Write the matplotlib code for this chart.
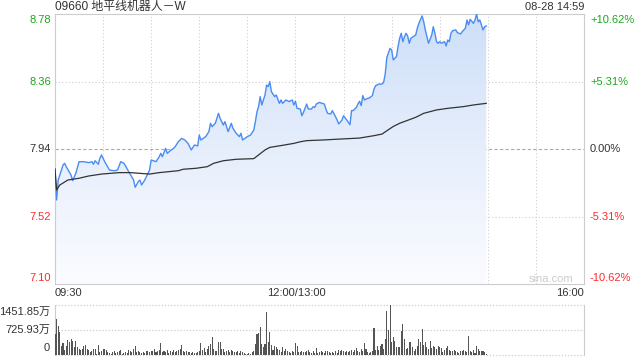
import numpy as np
import matplotlib.pyplot as plt
from matplotlib.colors import LinearSegmentedColormap

plt.rcParams['font.family'] = ['Liberation Sans', 'Noto Sans CJK SC', 'DejaVu Sans']

# minutes since 09:30 (lunch break removed, 12:00/13:00 = 150)
price_t = [0, 1, 2, 5, 6, 7, 10, 11, 13, 15, 18, 21, 23, 24, 25, 27, 28, 29, 31, 34,
           37, 39, 41, 43, 46, 49, 50, 52, 53, 54, 56, 59, 60, 63, 65, 66, 67, 69, 70, 72,
           74, 75, 77, 79, 81, 83, 85, 87, 89, 90, 91, 94, 96, 97, 98, 100, 102, 103, 105, 106,
           108, 110, 111, 113, 115, 116, 117, 120, 122, 124, 125, 126, 127, 128, 129, 130, 131, 132, 133, 134,
           135, 137, 138, 140, 141, 142, 144, 146, 148, 149, 150, 151, 153, 154, 155, 157, 158, 160, 161, 162,
           163, 165, 166, 168, 169, 170, 172, 173, 175, 176, 177, 179, 180, 182, 183, 184, 185, 186, 188, 189,
           190, 191, 192, 193, 195, 196, 198, 199, 200, 202, 204, 205, 206, 207, 209, 210, 211, 213, 214, 215,
           216, 217, 218, 219, 220, 221, 222, 225, 226, 227, 229, 230, 231, 232, 233, 235, 236, 237, 238, 239,
           240, 241, 243, 244, 245, 246, 247, 248, 250, 251, 253, 254, 255, 256, 257, 258, 259, 261, 262, 263,
           264, 265, 266, 267, 268, 269]
price = [7.814, 7.623, 7.747, 7.840, 7.851, 7.830, 7.778, 7.743, 7.789, 7.861, 7.861, 7.855, 7.861, 7.845, 7.867, 7.845, 7.882, 7.903, 7.861, 7.809,
         7.805, 7.809, 7.861, 7.851, 7.799, 7.747, 7.702, 7.737, 7.747, 7.716, 7.747, 7.809, 7.872, 7.861, 7.892, 7.913, 7.892, 7.944, 7.913, 7.930,
         7.944, 7.955, 7.986, 8.006, 7.996, 7.975, 7.934, 7.965, 7.959, 8.027, 7.996, 8.017, 8.048, 8.100, 8.079, 8.100, 8.162, 8.131, 8.089, 8.110,
         8.048, 8.100, 8.069, 8.038, 8.017, 8.038, 7.996, 8.017, 8.027, 8.058, 8.110, 8.172, 8.203, 8.266, 8.214, 8.245, 8.276, 8.338, 8.328, 8.359,
         8.297, 8.266, 8.276, 8.224, 8.245, 8.224, 8.245, 8.235, 8.245, 8.214, 8.237, 8.193, 8.189, 8.147, 8.168, 8.220, 8.189, 8.189, 8.203, 8.199,
         8.220, 8.230, 8.226, 8.220, 8.189, 8.162, 8.158, 8.179, 8.141, 8.120, 8.096, 8.120, 8.147, 8.120, 8.106, 8.091, 8.179, 8.179, 8.199, 8.220,
         8.237, 8.210, 8.272, 8.245, 8.255, 8.257, 8.272, 8.313, 8.334, 8.344, 8.344, 8.355, 8.407, 8.510, 8.566, 8.556, 8.494, 8.515, 8.577, 8.629,
         8.660, 8.608, 8.639, 8.660, 8.643, 8.598, 8.629, 8.649, 8.691, 8.722, 8.768, 8.732, 8.681, 8.639, 8.598, 8.649, 8.701, 8.660, 8.608, 8.598,
         8.608, 8.598, 8.608, 8.581, 8.618, 8.608, 8.660, 8.676, 8.681, 8.664, 8.656, 8.670, 8.681, 8.691, 8.743, 8.712, 8.747, 8.722, 8.743, 8.780,
         8.732, 8.743, 8.712, 8.681, 8.701, 8.705]

avg_t = [0, 1, 3, 8, 15, 21, 29, 40, 47, 59, 65, 77, 80, 88, 95, 99, 105, 113, 124, 127,
         131, 134, 142, 149, 153, 157, 167, 178, 190, 199, 204, 208, 211, 215, 225, 230, 238, 245, 255, 261, 269]
avg = [7.816, 7.685, 7.716, 7.747, 7.758, 7.772, 7.784, 7.793, 7.793, 7.784, 7.793, 7.805, 7.814, 7.820, 7.830, 7.851, 7.867, 7.876, 7.880, 7.903,
       7.934, 7.950, 7.963, 7.975, 7.985, 7.992, 7.996, 8.002, 8.008, 8.023, 8.033, 8.060, 8.080, 8.100, 8.137, 8.162, 8.183, 8.193, 8.204, 8.214, 8.224]

# volume per minute, unit 万
volume = [617, 1039, 833, 666, 274, 343, 147, 274, 441, 372,
          451, 421, 245, 421, 225, 176, 147, 176, 255, 304,
          176, 147, 78, 108, 176, 176, 29, 304, 78, 108,
          176, 176, 147, 78, 49, 29, 78, 127, 49, 78,
          127, 147, 29, 49, 78, 49, 147, 108, 78, 176,
          274, 78, 108, 78, 49, 78, 49, 127, 127, 78,
          127, 108, 176, 78, 127, 147, 343, 78, 108, 78,
          147, 49, 127, 78, 147, 78, 127, 147, 176, 304,
          127, 78, 108, 78, 78, 49, 78, 49, 49, 78,
          108, 343, 147, 206, 78, 176, 274, 323, 519, 176,
          127, 127, 372, 372, 176, 176, 78, 127, 147, 78,
          147, 127, 78, 78, 127, 49, 127, 78, 49, 29,
          29, 49, 29, 78, 108, 323, 617, 647, 813, 323,
          245, 323, 1254, 372, 666,
          304, 147, 274, 225, 176, 147, 78, 245, 127, 176,
          127, 78, 49, 108, 78, 343, 274, 78, 78, 108,
          78, 78, 127, 147, 78, 49, 108, 49, 206, 49,
          78, 127, 78, 49, 127, 108, 78, 49, 78, 49,
          108, 49, 147, 127, 147, 127, 78, 108, 78, 108,
          147, 78, 147, 206, 127, 78, 176, 127, 343, 176,
          78, 49, 78, 127, 794, 147, 274, 147, 274, 323,
          176, 470, 1274, 735, 1450, 372, 519, 402, 245, 245,
          225, 696, 892, 470, 176, 206, 372, 372, 245, 127,
          176, 274, 470, 372, 764, 304, 372, 225, 176, 421,
          206, 274, 245, 176, 274, 245, 206, 78, 147, 206,
          274, 147, 127, 127, 147, 127, 78, 49, 127, 108,
          147, 127, 78, 539, 127, 78, 147, 49, 274, 176,
          127, 108, 127, 78, 29]

prev_close = 7.94
price_ticks = [8.78, 8.36, 7.94, 7.52, 7.10]
pct_labels = ['+10.62%', '+5.31%', '0.00%', '-5.31%', '-10.62%']
vol_labels = ['1451.85万', '725.93万', '0']
vol_max = 1451.85
time_labels = ['09:30', '12:00/13:00', '16:00']

GREEN = '#1fa51f'
RED = '#ff2a2a'
DARK = '#333333'
GRID = '#cfcfcf'

fig = plt.figure(figsize=(6.4, 3.6), dpi=100)
W, H = 640, 360
ax = fig.add_axes([55 / W, 1 - 284 / H, 529 / W, 270 / H])
axv = fig.add_axes([55 / W, 1 - 355 / H, 529 / W, 50 / H])

# price panel
ax.set_xlim(0, 330)
ax.set_ylim(7.10, 8.78)
for x in range(30, 330, 30):
    ax.axvline(x, color=GRID, lw=0.8, ls=(0, (1, 2)), zorder=1)
for y in [8.36, 7.52]:
    ax.axhline(y, color=GRID, lw=0.8, ls=(0, (1, 2)), zorder=1)
ax.axhline(prev_close, color='#aaaaaa', lw=0.8, ls=(0, (3, 2)), zorder=1)

poly = ax.fill_between(price_t, price, 7.10, facecolor='none', edgecolor='none')
cmap = LinearSegmentedColormap.from_list('fade', ['#fbfcff', '#e6eefc', '#cddff8'])
grad = np.linspace(0, 1, 256).reshape(-1, 1)
im = ax.imshow(grad, extent=[0, 330, 7.10, 8.78], origin='lower', aspect='auto',
               cmap=cmap, zorder=2)
im.set_clip_path(poly.get_paths()[0], transform=ax.transData)

ax.plot(price_t, price, color='#4a8cf2', lw=1.0, zorder=4)
ax.plot(avg_t, avg, color=DARK, lw=0.9, zorder=4)

ax.set_xticks([])
ax.set_yticks([])
for s in ax.spines.values():
    s.set_color('#cccccc')
    s.set_linewidth(0.8)

# volume panel
axv.set_xlim(0, 330)
axv.set_ylim(0, vol_max)
axv.bar(np.arange(len(volume)), volume, width=0.65, color='#555555', zorder=3)
for y in [vol_max, vol_max / 2, 0]:
    axv.axhline(y, color=GRID, lw=0.9, ls=(0, (1, 1.5)), zorder=1, clip_on=False)
axv.set_xticks([])
axv.set_yticks([])
for k in ['top', 'bottom']:
    axv.spines[k].set_visible(False)
for k in ['left', 'right']:
    axv.spines[k].set_color('#cccccc')
    axv.spines[k].set_linewidth(0.8)


def px(x, y, s, size=8, **kw):
    fig.text(x / W, 1 - y / H, s, va='center', fontsize=size, **kw)


px(55, 7, '09660 地平线机器人－W', color=DARK, size=8.6)
px(584, 7, '08-28 14:59', color=DARK, ha='right')

label_y = [20, 82, 149, 217, 278]
colors = [GREEN, GREEN, DARK, RED, RED]
for v, lab, yy, c in zip(price_ticks, pct_labels, label_y, colors):
    px(51, yy, f'{v:.2f}', color=c, ha='right')
    px(590, yy, lab, color=c, ha='left')

px(55, 293, time_labels[0], color=DARK, ha='left')
px(296, 293, time_labels[1], color=DARK, ha='center')
px(584, 293, time_labels[2], color=DARK, ha='right')
px(573, 279, 'sina.com', color='#cccccc', ha='right')

for lab, yy in zip(vol_labels, [312, 330, 348]):
    px(50, yy, lab, color=DARK, ha='right')

fig.savefig('out.png', dpi=100)
